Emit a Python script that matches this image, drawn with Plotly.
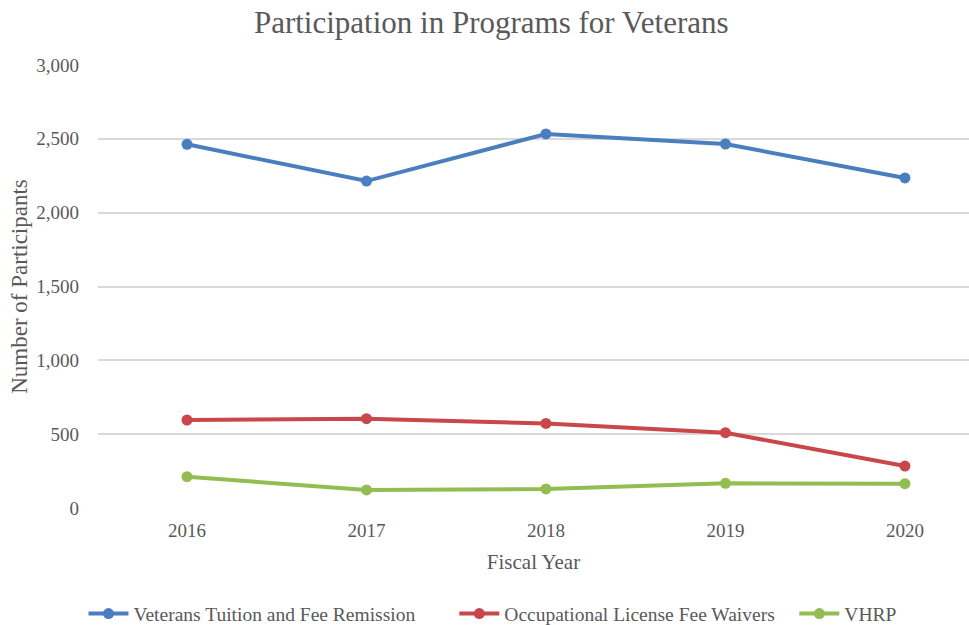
import plotly.graph_objects as go

years = [2016, 2017, 2018, 2019, 2020]
tuition = [2463, 2214, 2533, 2465, 2235]
license_waivers = [596, 605, 573, 510, 284]
vhrp = [212, 122, 129, 167, 165]

series = [
    ("Veterans Tuition and Fee Remission" + "\u00a0" * 7, tuition, "#4a7ebf"),
    ("Occupational License Fee Waivers" + "\u00a0" * 3, license_waivers, "#c8474a"),
    ("VHRP", vhrp, "#92bd50"),
]

font_family = "Liberation Serif"
text_color = "#595959"

fig = go.Figure()
for name, vals, color in series:
    fig.add_trace(go.Scatter(
        x=years, y=vals, name=name, mode="lines+markers",
        line=dict(color=color, width=4),
        marker=dict(color=color, size=11),
    ))

fig.update_layout(
    width=969, height=625,
    paper_bgcolor="white", plot_bgcolor="white",
    margin=dict(l=98, r=0, t=65, b=117, autoexpand=False),
    font=dict(family=font_family, color=text_color, size=19),
    title=dict(text="Participation in Programs for Veterans",
               x=0.507, xanchor="center", y=0.965, yanchor="middle",
               font=dict(size=31, color=text_color)),
    xaxis=dict(
        range=[2015.504, 2020.357], tickmode="array", tickvals=years,
        ticktext=[str(y) for y in years], showgrid=False, zeroline=False,
        showline=False, ticks="", tickfont=dict(size=19), automargin=False,
        ticklabelstandoff=9,
        title=dict(text="Fiscal Year", font=dict(size=21), standoff=14),
    ),
    yaxis=dict(
        range=[0, 3000], tickvals=[0, 500, 1000, 1500, 2000, 2500, 3000],
        tickformat=",", showgrid=True, gridcolor="#d9d9d9", gridwidth=1.5,
        zeroline=False, showline=False, ticks="", ticklabelstandoff=18,
        tickfont=dict(size=19), automargin=False,
        title=dict(text="Number of Participants", font=dict(size=23), standoff=2),
    ),
    legend=dict(orientation="h", x=0.4535, xanchor="center", y=-0.239, yanchor="middle",
                font=dict(size=19.5), itemwidth=40, traceorder="normal"),
    showlegend=True,
)

fig.write_html("out.html", config={"displayModeBar": False},
               post_script="document.body.style.margin='0';")
